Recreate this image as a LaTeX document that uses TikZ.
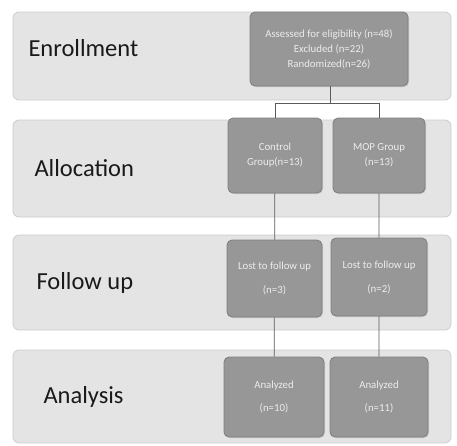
\documentclass[tikz,border=0pt]{standalone}
\usepackage{fontspec}
\setmainfont{Carlito}
\usetikzlibrary{shadows}

\definecolor{bandgray}{HTML}{E4E4E4}
\definecolor{bandline}{HTML}{CDCDCD}
\definecolor{boxgray}{HTML}{979797}
\definecolor{boxline}{HTML}{7E7E7E}
\definecolor{boxtext}{HTML}{ECECEC}
\definecolor{wire}{HTML}{5A5A5A}

\tikzset{
	band/.style={fill=bandgray, draw=bandline, line width=0.8pt, rounded corners=6pt, minimum width=438pt},
	stage/.style={anchor=west, font=\fontsize{24.5}{28}\selectfont, text=black!90},
	box/.style={fill=boxgray, draw=boxline, line width=0.8pt, rounded corners=5pt, text=boxtext, align=center,
		drop shadow={shadow xshift=1pt, shadow yshift=-1pt, opacity=0.25}},
}

\begin{document}
\begin{tikzpicture}[x=1pt, y=-1pt]
		\useasboundingbox (0, 0) rectangle (457, 445);

		% stage bands
		\node[band, minimum height=88pt] (enrolband) at (232, 56) {};
		\node[band, minimum height=97pt] (allocband) at (232, 168.5) {};
		\node[band, minimum height=95pt] (followband) at (232, 282.5) {};
		\node[band, minimum height=93pt] (analysband) at (232, 396.5) {};

		\node[stage] (enrolname) at (25, 48) {Enrollment};
		\node[stage] (allocname) at (31, 168) {Allocation};
		\node[stage] (followname) at (33, 283) {Follow up};
		\node[stage] (analysname) at (40, 397) {Analysis};

		% boxes
		\begin{scope}[every node/.append style={font=\fontsize{10.8}{15}\selectfont}]
			\node[box, minimum width=158pt, minimum height=74pt] (enrol) at (329, 49) {Assessed for eligibility (n=48)\\Excluded (n=22)\\Randomized(n=26)};
			\node[box, minimum width=94pt, minimum height=75pt] (ctrl) at (275, 155.5) {Control\\Group(n=13)};
			\node[box, minimum width=92pt, minimum height=75pt] (mop) at (379, 155.5) {MOP Group\\(n=13)};
			\node[box, minimum width=95pt, minimum height=77pt] (lostc) at (274.5, 278.5) {Lost to follow up\\[9pt](n=3)};
			\node[box, minimum width=96pt, minimum height=78pt] (lostm) at (379, 277) {Lost to follow up\\[9pt](n=2)};
			\node[box, minimum width=100pt, minimum height=80pt] (anac) at (274, 397) {Analyzed\\[8pt](n=10)};
			\node[box, minimum width=98pt, minimum height=80pt] (anam) at (379, 397) {Analyzed\\[8pt](n=11)};
		\end{scope}

		\coordinate (split) at (330, 103);

		\draw[wire, line width=0.7pt] (enrol.south -| split) -- (split) -| (ctrl.north);
		\draw[wire, line width=0.7pt] (split) -| (mop.north);
		\draw[wire, line width=0.7pt] (ctrl) -- (lostc) (mop) -- (lostm) (lostc) -- (anac) (lostm) -- (anam);
	\end{tikzpicture}
\end{document}
